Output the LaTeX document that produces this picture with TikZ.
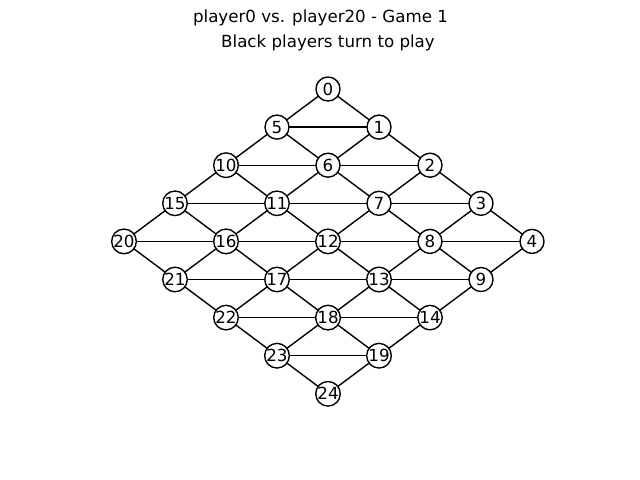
\documentclass[tikz,border=0pt]{standalone}
\usepackage{fontspec}
\setmainfont{DejaVu Sans}
\usetikzlibrary{backgrounds}
\begin{document}
\begin{tikzpicture}[x=0.72pt,y=-0.72pt,
  vtx/.style={circle,draw=black,fill=white,line width=1pt,minimum size=17.3pt,inner sep=0pt,font=\fontsize{12}{14}\selectfont},
  edge/.style={draw=black,line width=1pt},
  ttl/.style={font=\fontsize{12}{14}\selectfont,inner sep=0pt}]
\useasboundingbox (0,0) rectangle (640,480);
\node[ttl] (t1) at (320.5,18) {player0 vs. player20 - Game 1};
\node[ttl] (t2) at (328,43) {Black players turn to play};
\foreach \r in {0,...,4}{
  \foreach \c in {0,...,4}{
    \pgfmathtruncatemacro{\id}{5*\r+\c}
    \node[vtx] (n\id) at ({328+(\c-\r)*51},{89+(\r+\c)*38.1}) {\id};
  }
}
\begin{scope}[on background layer]
\foreach \r in {0,...,4}{
  \foreach \c in {0,...,4}{
    \pgfmathtruncatemacro{\id}{5*\r+\c}
    \ifnum\c<4
      \pgfmathtruncatemacro{\nb}{\id+1}
      \draw[edge] (n\id.center) -- (n\nb.center);
    \fi
    \ifnum\r<4
      \pgfmathtruncatemacro{\nb}{\id+5}
      \draw[edge] (n\id.center) -- (n\nb.center);
      \ifnum\c>0
        \pgfmathtruncatemacro{\nb}{\id+4}
        \draw[edge] (n\id.center) -- (n\nb.center);
      \fi
    \fi
  }
}
\end{scope}
\end{tikzpicture}
\end{document}
